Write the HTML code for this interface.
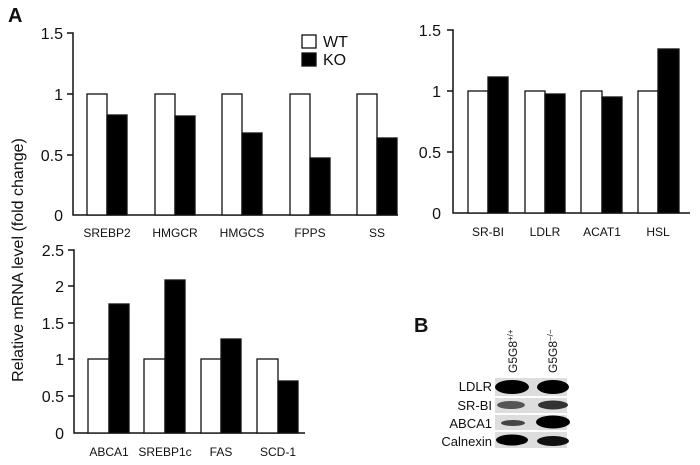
<!DOCTYPE html>
<html><head><style>body{margin:0;background:#fff}svg{display:block}text{font-family:"Liberation Sans",Arial,sans-serif;fill:#111}</style></head><body>
<svg width="700" height="465" viewBox="0 0 700 465" xmlns="http://www.w3.org/2000/svg">
<g stroke="#111" stroke-width="1.5" fill="none">
<path d="M67 33H73V215H398M67 94H73M67 155H73"/>
<path d="M447 30H453V213H690M447 91H453M447 152H453"/>
<path d="M68 250H74V433H305M68 286H74M68 323H74M68 359H74M68 396H74"/>
</g>
<g stroke="#111" stroke-width="1.3">
<rect x="87" y="94" width="20" height="121" fill="#fff"/><rect x="107" y="115" width="20" height="100" fill="#000"/>
<rect x="155" y="94" width="20" height="121" fill="#fff"/><rect x="175" y="116" width="20" height="99" fill="#000"/>
<rect x="222" y="94" width="20" height="121" fill="#fff"/><rect x="242" y="133" width="20" height="82" fill="#000"/>
<rect x="290" y="94" width="20" height="121" fill="#fff"/><rect x="310" y="158" width="20" height="57" fill="#000"/>
<rect x="357" y="94" width="20" height="121" fill="#fff"/><rect x="377" y="138" width="20" height="77" fill="#000"/>
<rect x="302" y="35" width="14" height="13" fill="#fff"/><rect x="302" y="53" width="14" height="13" fill="#000"/>
<rect x="468" y="91" width="20" height="122" fill="#fff"/><rect x="488" y="77" width="20" height="136" fill="#000"/>
<rect x="525" y="91" width="20" height="122" fill="#fff"/><rect x="545" y="94" width="20" height="119" fill="#000"/>
<rect x="581" y="91" width="21" height="122" fill="#fff"/><rect x="602" y="97" width="20" height="116" fill="#000"/>
<rect x="638" y="91" width="20" height="122" fill="#fff"/><rect x="658" y="49" width="21" height="164" fill="#000"/>
<rect x="88" y="359" width="21" height="74" fill="#fff"/><rect x="109" y="304" width="20" height="129" fill="#000"/>
<rect x="144" y="359" width="21" height="74" fill="#fff"/><rect x="165" y="280" width="20" height="153" fill="#000"/>
<rect x="201" y="359" width="20" height="74" fill="#fff"/><rect x="221" y="339" width="20" height="94" fill="#000"/>
<rect x="257" y="359" width="21" height="74" fill="#fff"/><rect x="278" y="381" width="20" height="52" fill="#000"/>
</g>
<text x="8" y="22" font-size="20" font-weight="bold">A</text>
<text x="414" y="332" font-size="20" font-weight="bold">B</text>
<g font-size="16" text-anchor="end">
<text x="63" y="39">1.5</text><text x="63" y="100">1</text><text x="63" y="161">0.5</text><text x="63" y="221">0</text>
<text x="441" y="36">1.5</text><text x="441" y="97">1</text><text x="441" y="158">0.5</text><text x="441" y="219">0</text>
<text x="64" y="256">2.5</text><text x="64" y="292">2</text><text x="64" y="329">1.5</text><text x="64" y="365">1</text><text x="64" y="402">0.5</text><text x="64" y="439">0</text>
</g>
<text x="323" y="47" font-size="16">WT</text><text x="323" y="65" font-size="16">KO</text>
<g font-size="12" text-anchor="middle">
<text x="107" y="237">SREBP2</text><text x="175" y="237">HMGCR</text><text x="242" y="237">HMGCS</text><text x="310" y="237">FPPS</text><text x="377" y="237">SS</text>
<text x="488" y="236">SR-BI</text><text x="545" y="236">LDLR</text><text x="602" y="236">ACAT1</text><text x="658" y="236">HSL</text>
<text x="109" y="456">ABCA1</text><text x="165" y="456">SREBP1c</text><text x="221" y="456">FAS</text><text x="278" y="456">SCD-1</text>
</g>
<text transform="translate(23,260) rotate(-90)" font-size="16" text-anchor="middle">Relative mRNA level (fold change)</text>
<g font-size="13" text-anchor="end">
<text x="492" y="391">LDLR</text><text x="492" y="410">SR-BI</text><text x="492" y="428">ABCA1</text><text x="492" y="446">Calnexin</text>
</g>
<text transform="translate(517,373) rotate(-90)" font-size="12">G5G8<tspan font-size="8" dy="-4">+/+</tspan></text>
<text transform="translate(557,373) rotate(-90)" font-size="12">G5G8<tspan font-size="8" dy="-4">−/−</tspan></text>
<g>
<rect x="495" y="378" width="72" height="18" fill="#ddd"/>
<rect x="495" y="398" width="72" height="15" fill="#ddd"/>
<rect x="495" y="415" width="72" height="15" fill="#ddd"/>
<rect x="495" y="432" width="72" height="16" fill="#ddd"/>
<ellipse cx="512" cy="387" rx="17" ry="7" fill="#000"/><ellipse cx="553" cy="387" rx="16" ry="7" fill="#000"/>
<ellipse cx="511" cy="405" rx="14" ry="4" fill="#555"/><ellipse cx="553" cy="405" rx="15" ry="4.5" fill="#333"/>
<ellipse cx="513" cy="423" rx="12" ry="3" fill="#444"/><ellipse cx="553" cy="422" rx="17" ry="6.5" fill="#000"/>
<ellipse cx="512" cy="440" rx="16" ry="5.5" fill="#000"/><ellipse cx="553" cy="441" rx="16" ry="5" fill="#111"/>
</g>
</svg>
</body></html>
